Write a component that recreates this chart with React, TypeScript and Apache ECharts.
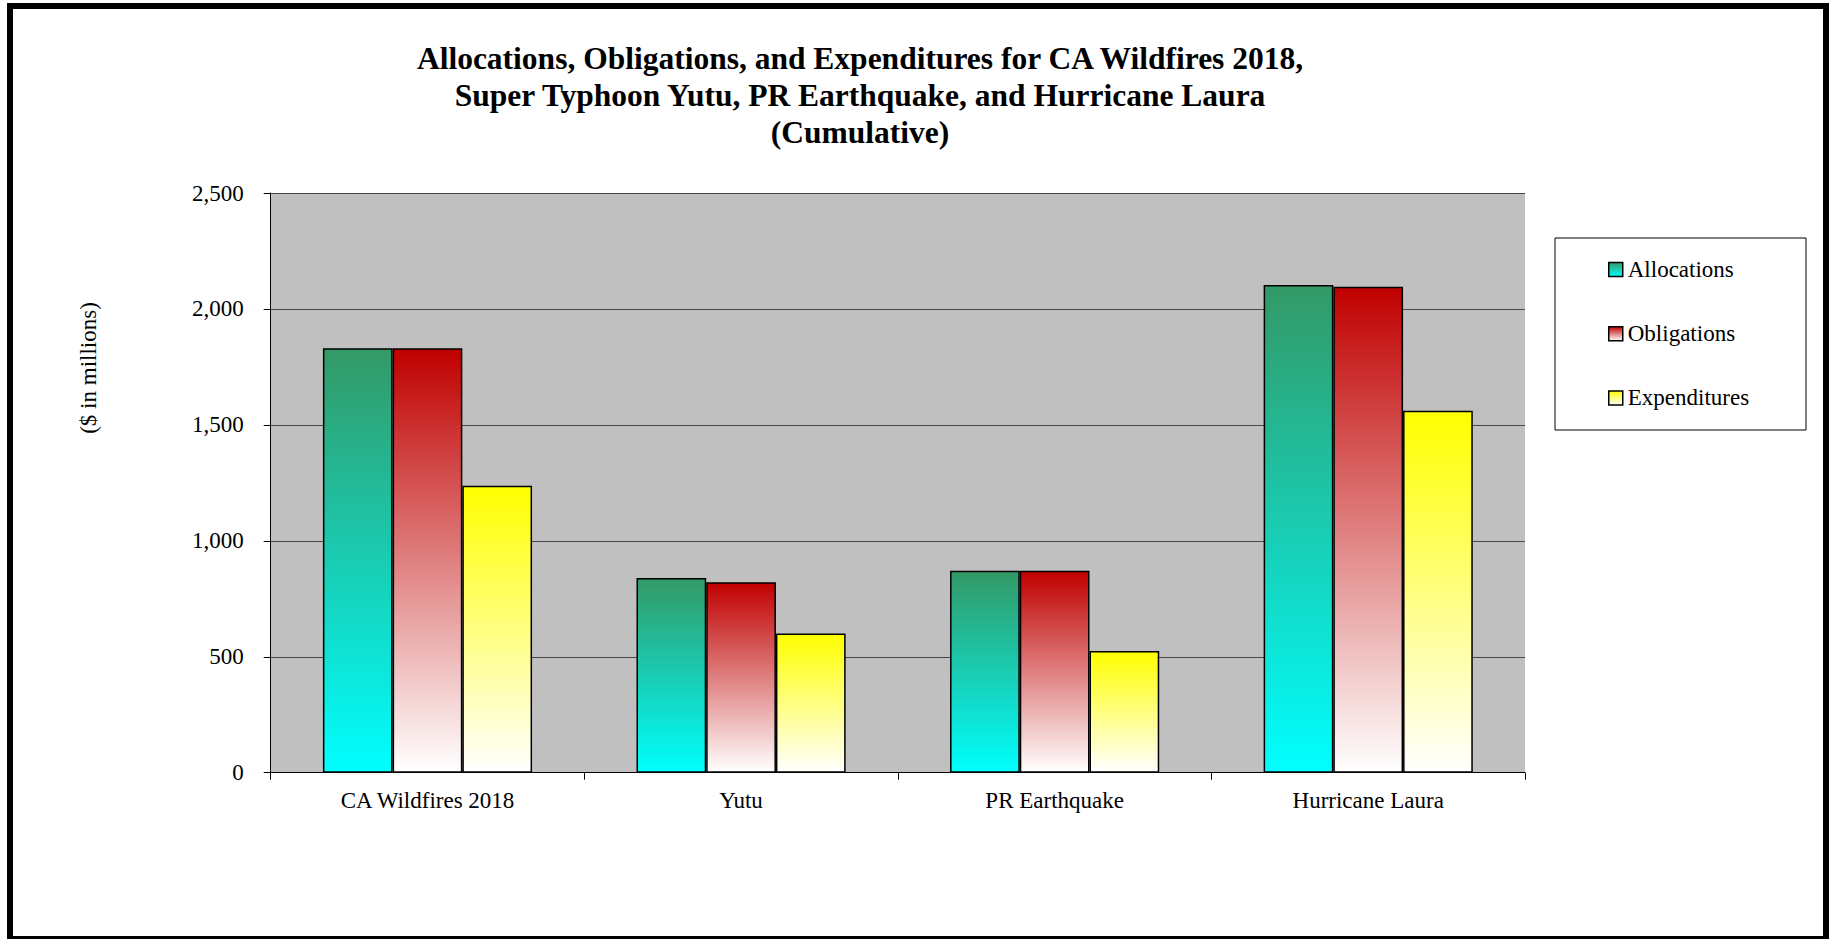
import React, { useEffect, useRef } from "react";
import * as echarts from "echarts";

const categories = ["CA Wildfires 2018", "Yutu", "PR Earthquake", "Hurricane Laura"];
const allocations = [1830, 840, 871, 2103];
const obligations = [1830, 821, 871, 2096];
const expenditures = [1238, 600, 525, 1561];
const seriesNames = ["Allocations", "Obligations", "Expenditures"];
const titleLines = [
  "Allocations, Obligations, and Expenditures for CA Wildfires 2018,",
  "Super Typhoon Yutu, PR Earthquake, and Hurricane Laura",
  "(Cumulative)",
];
const yAxisTitle = "($ in millions)";

const FONT = "'Liberation Serif', 'Times New Roman', serif";

function grad(top: string, bottom: string) {
  return {
    type: "linear",
    x: 0,
    y: 0,
    x2: 0,
    y2: 1,
    colorStops: [
      { offset: 0, color: top },
      { offset: 1, color: bottom },
    ],
  };
}

export default function App() {
  const ref = useRef<HTMLDivElement>(null);

  useEffect(() => {
    document.body.style.margin = "0";
    if (!ref.current) return;
    const chart = echarts.init(ref.current, undefined, { renderer: "svg" });

    const barStyle = (top: string, bottom: string) => ({
      color: grad(top, bottom),
      borderColor: "#000",
      borderWidth: 1.5,
    });

    chart.setOption({
      animation: false,
      backgroundColor: "#ffffff",
      textStyle: { fontFamily: FONT },
      grid: {
        left: 270.7,
        right: 307,
        top: 193,
        bottom: 166.3,
        show: true,
        backgroundColor: "#C0C0C0",
        borderWidth: 0,
      },
      legend: {
        orient: "vertical",
        left: 1608,
        top: 258,
        z: 10,
        itemWidth: 14,
        itemHeight: 14,
        itemGap: 41.2,
        icon: "rect",
        padding: 0,
        data: seriesNames,
        itemStyle: { borderColor: "#000", borderWidth: 1.5 },
        textStyle: {
          fontFamily: FONT,
          fontSize: 23,
          lineHeight: 23,
          color: "#000",
        },
      },
      xAxis: {
        type: "category",
        data: categories,
        axisLine: { lineStyle: { color: "#000", width: 1 } },
        axisTick: { show: true, length: 7, lineStyle: { color: "#000" } },
        axisLabel: {
          fontFamily: FONT,
          fontSize: 23,
          lineHeight: 23,
          color: "#000",
          margin: 16,
          interval: 0,
        },
        splitLine: { show: false },
      },
      yAxis: {
        type: "value",
        min: 0,
        max: 2500,
        interval: 500,
        axisLine: { show: true, lineStyle: { color: "#000", width: 1 } },
        axisTick: { show: true, length: 7, lineStyle: { color: "#000" } },
        axisLabel: {
          fontFamily: FONT,
          fontSize: 23,
          color: "#000",
          margin: 27,
          formatter: (v: number) => v.toLocaleString("en-US"),
        },
        splitLine: { show: true, lineStyle: { color: "#464646", width: 1.2 } },
      },
      series: [
        {
          name: seriesNames[0],
          type: "bar",
          data: allocations,
          barGap: "0%",
          barCategoryGap: "33.3%",
          itemStyle: barStyle("#339966", "#00FFFF"),
        },
        {
          name: seriesNames[1],
          type: "bar",
          data: obligations,
          barGap: "0%",
          barCategoryGap: "33.3%",
          itemStyle: barStyle("#C00000", "#FFFFFF"),
        },
        {
          name: seriesNames[2],
          type: "bar",
          data: expenditures,
          barGap: "0%",
          barCategoryGap: "33.3%",
          itemStyle: barStyle("#FFFF00", "#FFFFFF"),
        },
      ],
      graphic: [
        {
          type: "rect",
          z: 0,
          shape: { x: 1555, y: 238, width: 251, height: 192 },
          style: { fill: "#fff", stroke: "#000", lineWidth: 1 },
        },
        {
          type: "text",
          z: 5,
          x: 860,
          y: 40,
          style: {
            text: titleLines.join("\n"),
            fontFamily: FONT,
            fontWeight: "bold",
            fontSize: 31.5,
            lineHeight: 37,
            fill: "#000",
            align: "center",
            verticalAlign: "top",
          },
        },
        {
          type: "text",
          z: 5,
          x: 88,
          y: 368,
          rotation: Math.PI / 2,
          style: {
            text: yAxisTitle,
            fontFamily: FONT,
            fontSize: 23,
            fill: "#000",
            align: "center",
            verticalAlign: "middle",
          },
        },
        {
          type: "rect",
          z: 20,
          shape: { x: 10, y: 6, width: 1816, height: 933 },
          style: { fill: "none", stroke: "#000", lineWidth: 6 },
        },
      ],
    });

    return () => {
      chart.dispose();
    };
  }, []);

  return (
    <div
      ref={ref}
      style={{ position: "fixed", left: 0, top: 0, width: 1832, height: 939 }}
    />
  );
}
